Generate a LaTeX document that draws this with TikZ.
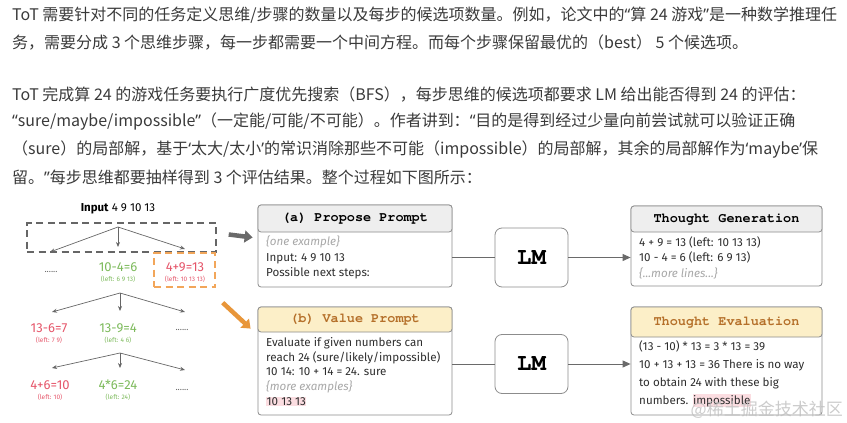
\documentclass[tikz,border=0pt]{standalone}
\usepackage[T1]{fontenc}
\usepackage{fontspec}
\setmainfont{Fira Sans}
\newfontfamily\cjk{Noto Sans CJK SC}
\newfontfamily\qfont{Noto Sans}
\newcommand\courb{\fontencoding{T1}\fontfamily{pcr}\fontseries{b}\fontshape{n}\selectfont}
\newcommand\oqq{{\qfont “}}
\newcommand\cqq{{\qfont ”}}
\newcommand\osq{{\qfont ‘}}
\newcommand\csq{{\qfont ’}}
\usetikzlibrary{arrows.meta,positioning}
\definecolor{paratext}{HTML}{3A3A3A}
\definecolor{goodeq}{HTML}{7DBA5C}
\definecolor{badeq}{HTML}{E5566A}
\definecolor{framegray}{HTML}{666666}
\definecolor{frameorange}{HTML}{F2A65A}
\definecolor{arrowgray}{HTML}{6A6A6A}
\definecolor{arroworange}{HTML}{E8963A}
\definecolor{boxline}{HTML}{8C8C8C}
\definecolor{hdrgray}{HTML}{EEEEEE}
\definecolor{hdryellow}{HTML}{FCEFC8}
\definecolor{titlebrown}{HTML}{B5702A}
\definecolor{faint}{HTML}{A8A8A8}
\definecolor{hl}{HTML}{FBDDE1}
\definecolor{bodytext}{HTML}{2E2E2E}
\setlength{\fboxsep}{0.5pt}
\begin{document}
\begin{tikzpicture}[x=1pt,y=-1pt,
  para/.style={anchor=west,inner sep=0pt,text=paratext,font=\cjk\fontsize{16}{18}\selectfont},
  eqgood/.style={text=goodeq,inner sep=0pt,font=\fontsize{13}{13}\selectfont},
  eqbad/.style={text=badeq,inner sep=0pt,font=\fontsize{13}{13}\selectfont},
  leftnote/.style={inner sep=0pt,font=\fontsize{6.5}{7}\selectfont},
  dots/.style={text=framegray,inner sep=0pt,font=\fontsize{9}{9}\selectfont},
  treearrow/.style={draw=framegray,line width=0.7pt,-{Stealth[length=5pt,width=4pt]}},
  frame/.style={draw=#1,dashed,line width=1.4pt,dash pattern=on 7pt off 4.5pt},
  bigarrow/.style={draw=#1,line width=4.5pt,-{Triangle[length=8pt,width=12pt]}},
  box/.style={draw=boxline,rounded corners=3pt,fill=white,line width=0.8pt},
  hdr/.style={box,fill=#1,anchor=north,font=\courb\fontsize{13.5}{14}\selectfont},
  body/.style={anchor=north west,inner sep=0pt,align=left,text=bodytext},
  lm/.style={draw=boxline,rounded corners=7pt,line width=0.8pt,minimum width=73,minimum height=59,
    font=\courb\fontsize{24}{24}\selectfont},
  link/.style={draw=arrowgray,line width=1pt}]
\useasboundingbox (0,0) rectangle (847,423);

\node[para] (p1) at (12,15) {ToT 需要针对不同的任务定义思维/步骤的数量以及每步的候选项数量。例如，论文中的\oqq 算 24 游戏\cqq 是一种数学推理任};
\node[para] (p2) at (12,43) {务，需要分成 3 个思维步骤，每一步都需要一个中间方程。而每个步骤保留最优的（best） 5 个候选项。};
\node[para] (p3) at (12,95) {ToT 完成算 24 的游戏任务要执行广度优先搜索（BFS），每步思维的候选项都要求 LM 给出能否得到 24 的评估：};
\node[para] (p4) at (12,122) {\oqq sure/maybe/impossible\cqq （一定能/可能/不可能）。作者讲到：\oqq 目的是得到经过少量向前尝试就可以验证正确};
\node[para] (p5) at (12,150) {（sure）的局部解，基于\osq 太大/太小\csq 的常识消除那些不可能（impossible）的局部解，其余的局部解作为\osq maybe\csq 保};
\node[para] (p6) at (12,177) {留。\cqq 每步思维都要抽样得到 3 个评估结果。整个过程如下图所示：};

\node[inner sep=0pt,font=\fontsize{11.5}{12}\selectfont] (input) at (118,209) {\textbf{Input} 4 9 10 13};
\node[frame=framegray,minimum width=189,minimum height=29] (f1) at (121.5,237.5) {};

\node[dots] (d1) at (51,272) {......};
\node[eqgood] (g1) at (118,267) {10-4=6};
\node[leftnote,text=goodeq] (g1l) at (118,279) {(left: 6 9 13)};
\node[eqbad] (r1) at (185,267) {4+9=13};
\node[leftnote,text=badeq] (r1l) at (185,279) {(left: 10 13 13)};
\node[frame=frameorange,minimum width=61,minimum height=34] (f2) at (184.5,270) {};

\node[eqbad] (r2) at (49,328) {13-6=7};
\node[leftnote,text=badeq] (r2l) at (49,340) {(left: 7 9)};
\node[eqgood] (g2) at (118,328) {13-9=4};
\node[leftnote,text=goodeq] (g2l) at (118,340) {(left: 4 6)};
\node[dots] (d2) at (182,330) {......};

\node[eqbad] (r3) at (50,385) {4+6=10};
\node[leftnote,text=badeq] (r3l) at (50,397) {(left: 10)};
\node[eqgood] (g3) at (118,385) {4*6=24};
\node[leftnote,text=goodeq] (g3l) at (118,397) {(left: 24)};
\node[dots] (d3) at (182,390) {......};

\coordinate (s1) at (118,227);
\coordinate (s2) at (120,293);
\coordinate (s3) at (120,353);
\foreach \n/\x/\y in {1/50/252,2/118/247,3/185/249} \coordinate (t1\n) at (\x,\y);
\foreach \n/\x/\y in {1/52/312,2/120/311,3/185/312} \coordinate (t2\n) at (\x,\y);
\foreach \n/\x/\y in {1/52/368,2/120/368,3/185/370} \coordinate (t3\n) at (\x,\y);
\foreach \l in {1,2,3}
  \foreach \n in {1,2,3}
    \draw[treearrow] (s\l) -- (t\l\n);

\node[box,minimum width=194,minimum height=82] (propose) at (355,246) {};
\node[hdr=hdrgray,minimum width=194,minimum height=27] (proposeh) at (propose.north) {(a) Propose Prompt};
\node[body,font=\fontsize{11.6}{15.5}\selectfont] (proposet) at (266,236)
  {\textcolor{faint}{\itshape\{one example\}}\\Input: 4 9 10 13\\Possible next steps:};

\node[box,minimum width=194,minimum height=108] (value) at (355,361) {};
\node[hdr=hdryellow,text=titlebrown,minimum width=194,minimum height=25] (valueh) at (value.north) {(b) Value Prompt};
\node[body,font=\fontsize{11.6}{14.8}\selectfont] (valuet) at (266,337)
  {Evaluate if given numbers can\\reach 24 (sure/likely/impossible)\\10 14: 10 + 14 = 24. sure\\
   \textcolor{faint}{\itshape\{more examples\}}\\\colorbox{hl}{10 13 13}};

\node[lm] (lm1) at (531.5,257.5) {LM};
\node[lm] (lm2) at (531.5,364) {LM};

\node[box,minimum width=191,minimum height=80] (gen) at (726.5,246) {};
\node[hdr=hdrgray,minimum width=191,minimum height=26] (genh) at (gen.north) {Thought Generation};
\node[body,font=\fontsize{11.6}{15.5}\selectfont] (gent) at (639,236)
  {4 + 9 = 13 (left: 10 13 13)\\10 - 4 = 6 (left: 6 9 13)\\\textcolor{faint}{\itshape\{...more lines...\}}};

\node[box,minimum width=191,minimum height=108] (eval) at (726.5,361) {};
\node[hdr=hdryellow,text=titlebrown,minimum width=191,minimum height=30] (evalh) at (eval.north) {Thought Evaluation};
\node[body,font=\fontsize{11.6}{18}\selectfont] (evalt) at (639,340)
  {(13 - 10) * 13 = 3 * 13 = 39\\10 + 13 + 13 = 36 There is no way\\to obtain 24 with these big\\numbers. \colorbox{hl}{impossible}};

\draw[bigarrow=arrowgray] ([shift={(12,-3)}]f1.east) -- ([shift={(-5,0)}]f1.east -| propose.west);
\draw[bigarrow=arroworange] ([shift={(7,15)}]f2.south east) -- ([shift={(-7,22)}]value.north west);

\draw[link] (lm1.west -| propose.east) -- (lm1.west);
\draw[link,-{Triangle[length=8pt,width=7pt]}] (lm1.east) -- (lm1.east -| gen.west);
\draw[link] (lm2.west -| value.east) -- (lm2.west);
\draw[link,-{Triangle[length=8pt,width=7pt]}] (lm2.east) -- (lm2.east -| eval.west);

\node[anchor=east,inner sep=0pt,text=black!25,opacity=0.8,font=\cjk\fontsize{17}{17}\selectfont] (mark) at (843,410) {@稀土掘金技术社区};
\end{tikzpicture}
\end{document}
